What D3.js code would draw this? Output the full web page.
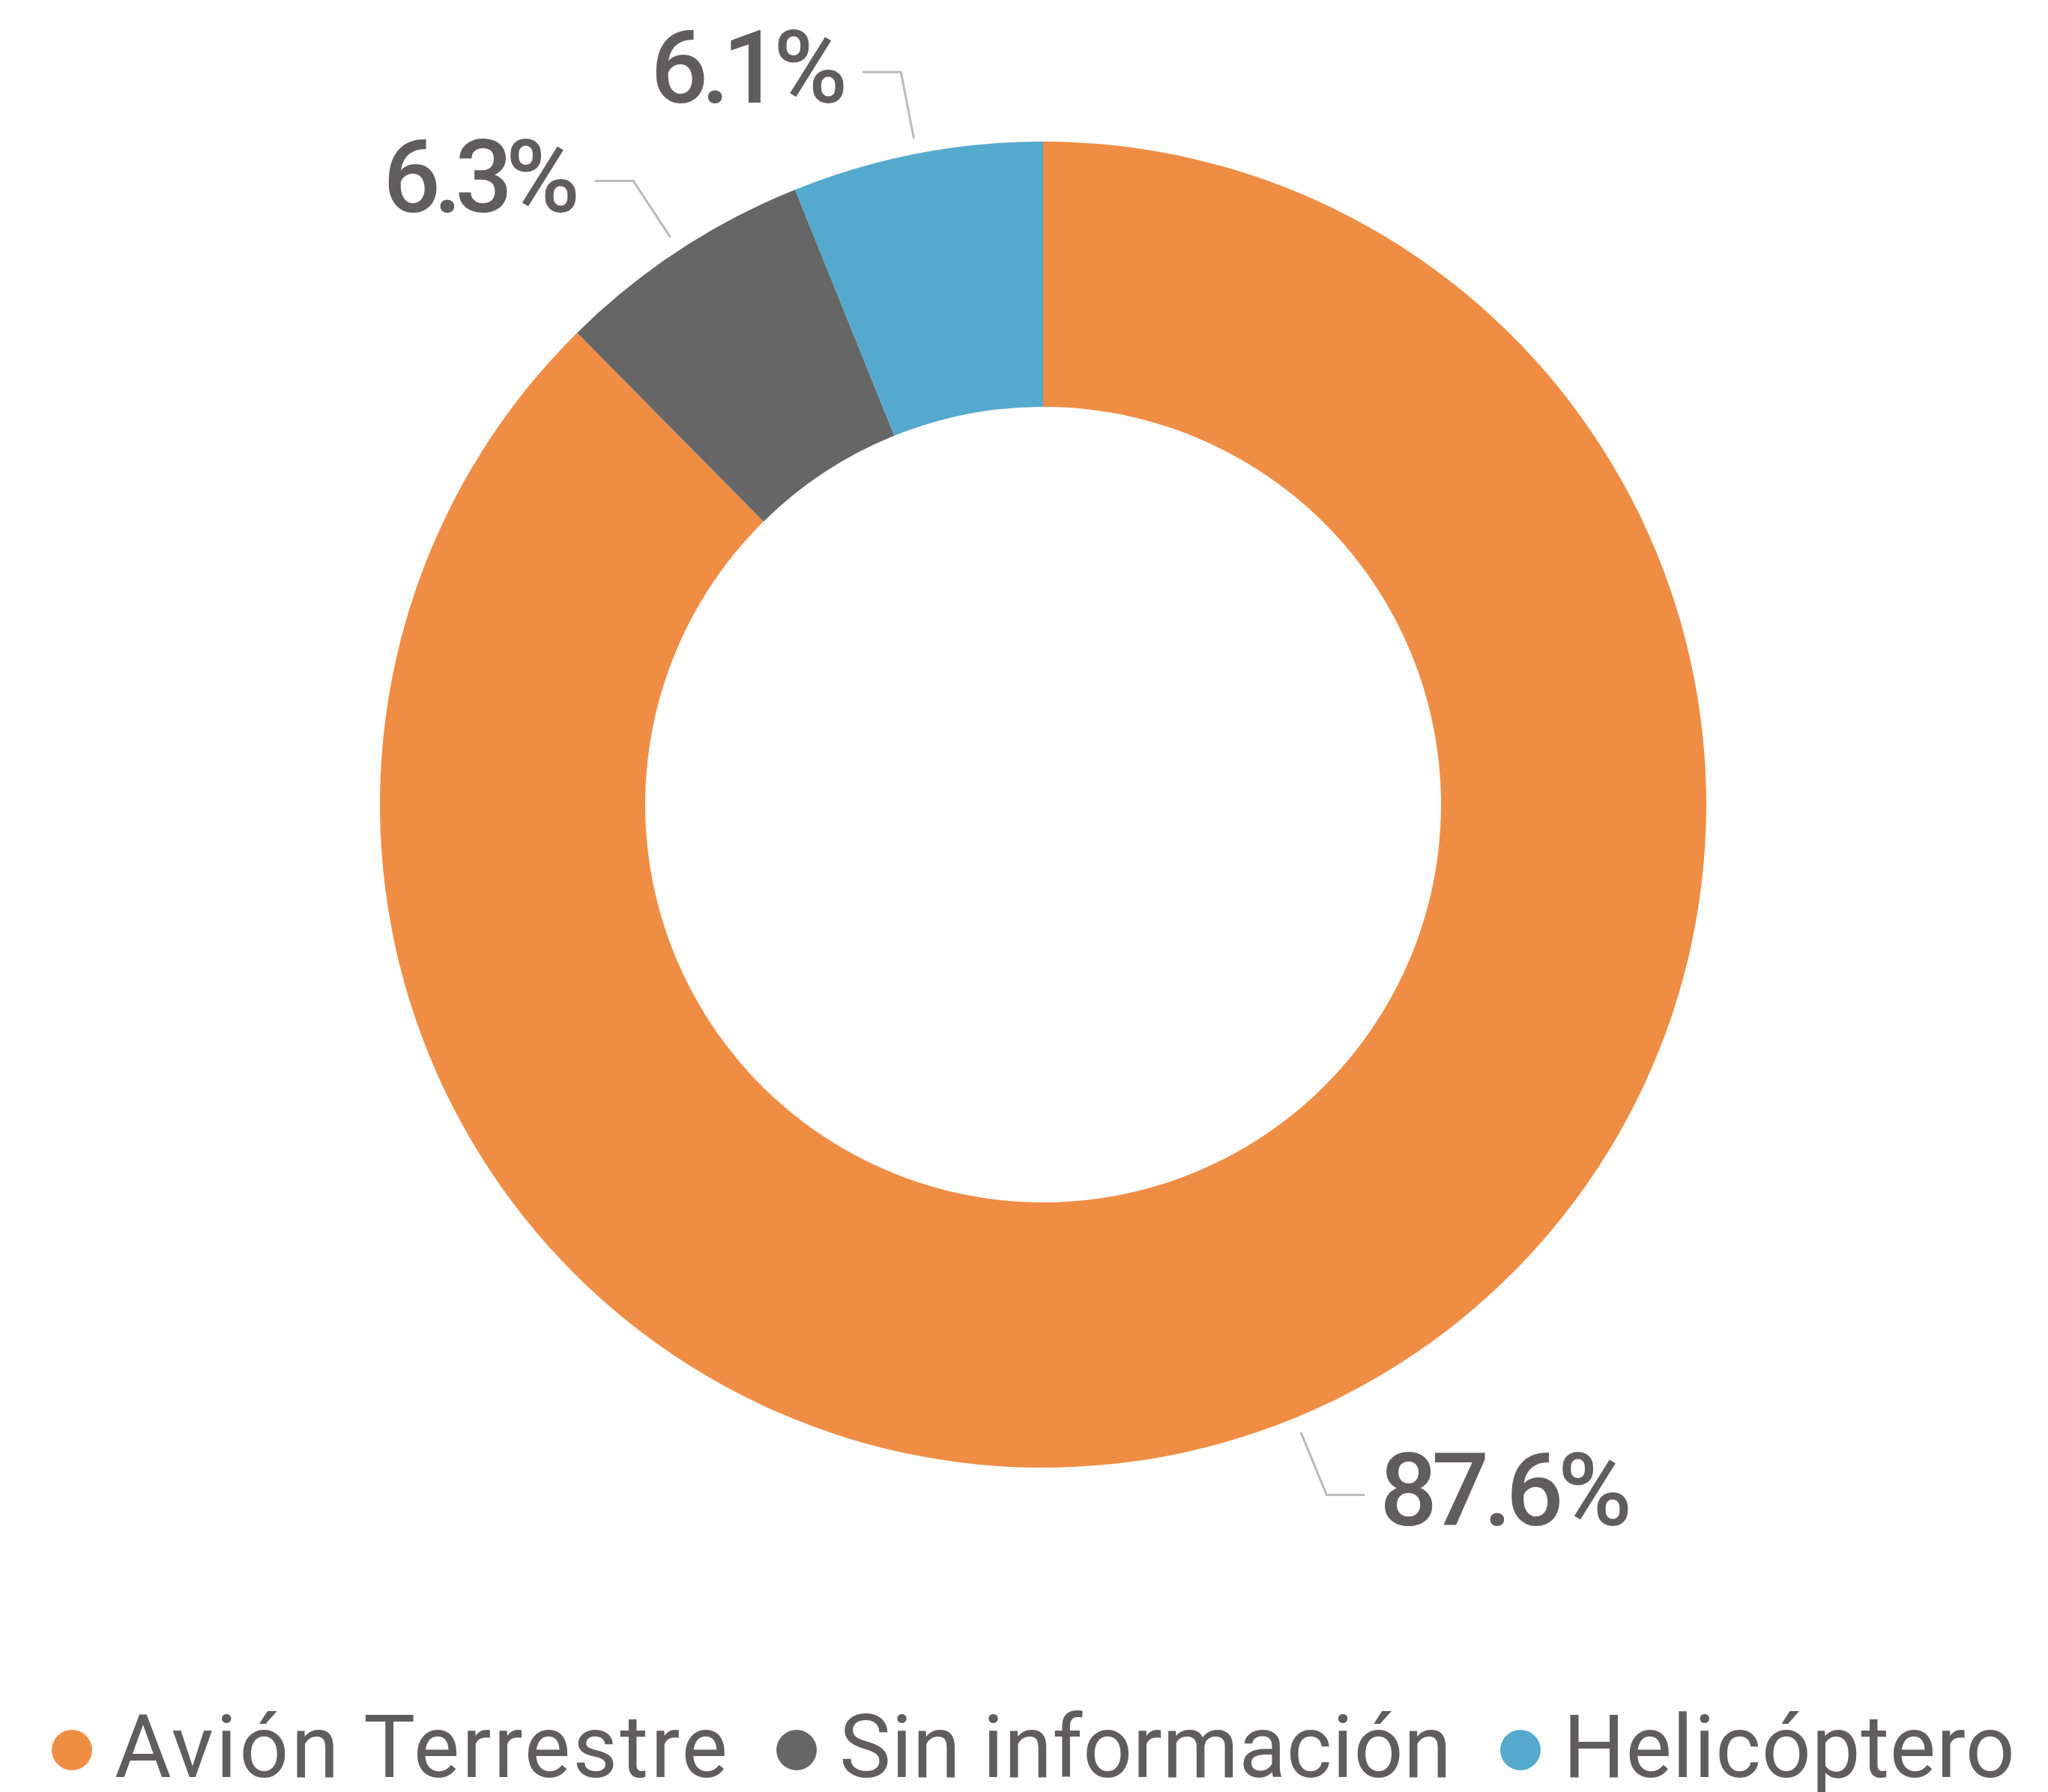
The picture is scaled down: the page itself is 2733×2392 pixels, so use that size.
<!DOCTYPE html>
<html>
<head>
<meta charset="utf-8">
<script src="https://cdn.jsdelivr.net/npm/d3@7"></script>
<style>
  body { margin: 0; background: #fff; }
  svg { display: block; }
</style>
</head>
<body>
<div id="chart"></div>
<script>
// data
const categories = ["Avión Terrestre", "Sin información", "Helicóptero"];
const shares = [87.6, 6.3, 6.1];
const labels = ["87.6%", "6.3%", "6.1%"];
const colors = ["#F08D45", "#666666", "#55A9CD"];

const width = 2733, height = 2392;
const cx = 1392, cy = 1074;
const outerR = 885, innerR = 531;
const textColor = "#5F5E5C";
const fontStack = "Roboto, 'DejaVu Sans', sans-serif";

const data = categories.map((c, i) => ({ key: c, value: shares[i], label: labels[i], color: colors[i] }));

const svg = d3.select('#chart').append('svg')
    .attr('width', width)
    .attr('height', height);

const pie = d3.pie()
    .sort(null)
    .value(d => d.value);

const arc = d3.arc()
    .innerRadius(innerR)
    .outerRadius(outerR);

const arcs = pie(data);

const g = svg.append('g')
    .attr('transform', 'translate(' + cx + ',' + cy + ')');

g.selectAll('path.slice')
  .data(arcs)
  .enter()
  .append('path')
    .attr('class', 'slice')
    .attr('d', arc)
    .attr('fill', d => d.data.color);

// leader lines + labels
function polar(a, r) { return [r * Math.sin(a), -r * Math.cos(a)]; }

arcs.forEach(function(d) {
  const a = (d.startAngle + d.endAngle) / 2;
  const dir = Math.sin(a) >= 0 ? 1 : -1;
  const p1 = polar(a, outerR + 22);
  const p2 = polar(a, outerR + 111);
  const p3 = [p2[0] + dir * 50, p2[1]];

  g.append('path')
    .attr('d', d3.line()([p1, p2, p3]))
    .attr('fill', 'none')
    .attr('stroke', '#BBBBBB')
    .attr('stroke-width', 3)
    .attr('stroke-linecap', 'round');

  // width of the label text in the reference: ~66px per character
  const w = d.data.label.length === 5 ? 337 : 263;
  g.append('text')
    .attr('x', p3[0] + dir * 21)
    .attr('y', p2[1] + 41)
    .attr('text-anchor', dir > 0 ? 'start' : 'end')
    .attr('font-family', fontStack)
    .attr('font-weight', 500)
    .attr('font-size', 135)
    .attr('fill', textColor)
    .attr('textLength', w)
    .attr('lengthAdjust', 'spacing')
    .text(d.data.label);
});

// legend
const legend = svg.append('g').attr('class', 'legend');
const legendY = 2336;
const legendWidths = [818, 817, 603];
let x = 96;
data.forEach(function(d, i) {
  legend.append('circle')
    .attr('cx', x)
    .attr('cy', legendY)
    .attr('r', 27)
    .attr('fill', d.color);
  legend.append('text')
    .attr('x', x + 57)
    .attr('y', 2372)
    .attr('font-family', fontStack)
    .attr('font-size', 116)
    .attr('fill', textColor)
    .attr('textLength', legendWidths[i])
    .attr('lengthAdjust', 'spacing')
    .text(d.key);
  x = x + 57 + legendWidths[i] + 92;
});
</script>
</body>
</html>
